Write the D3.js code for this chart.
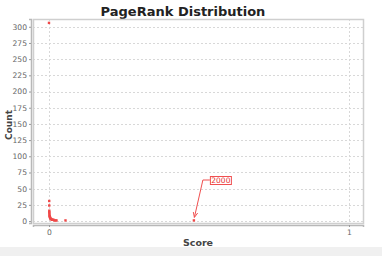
<!DOCTYPE html>
<html lang="en">
<head>
<meta charset="utf-8" />
<title>PageRank Distribution</title>
<style>
  body { margin: 0; background: #fff; }
  text { font-family: "DejaVu Sans", sans-serif; }
</style>
</head>
<body>
<script src="https://d3js.org/d3.v7.min.js"></script>
<div id="chart"></div>
<script>
    // PageRank score of each group and how many nodes share it
    const scores = [0, 0.0008, 0.0008, 0.001, 0.001, 0.0012, 0.0015, 0.002, 0.0025, 0.003, 0.004, 0.005, 0.006, 0.008, 0.01, 0.012, 0.015, 0.018, 0.022, 0.025, 0.055, 0.483];
    const counts = [306, 31, 24, 16, 14, 12, 10, 8, 7, 6, 5, 4, 3, 3, 2, 2, 2, 1, 1, 1, 1, 1];
    const xTicks = [0, 1];
    const yTicks = [0, 25, 50, 75, 100, 125, 150, 175, 200, 225, 250, 275, 300];
    const note = {score: 0.483, count: 1, label: "2000"};

    const W = 382, H = 256;
    const plot = {left: 33, right: 363, top: 19, bottom: 223};

    const svg = d3.select("#chart").append("svg")
        .attr("width", W).attr("height", H);

    // grey strip at the very bottom
    svg.append("rect").attr("x", 0).attr("y", 247).attr("width", W).attr("height", H - 247)
        .attr("fill", "#f0f0f0");

    const x = d3.scaleLinear().domain([-0.0533, 1.0467]).range([plot.left, plot.right]);
    const y = d3.scaleLinear().domain([-3, 312]).range([plot.bottom, plot.top]);

    svg.append("text")
        .attr("x", 183).attr("y", 16)
        .attr("text-anchor", "middle")
        .style("font-size", "13px").style("font-weight", "bold").attr("fill", "#222")
        .text("PageRank Distribution");

    // grid
    svg.append("g").selectAll("line").data(yTicks).join("line")
        .attr("x1", plot.left).attr("x2", plot.right)
        .attr("y1", d => Math.round(y(d)) + 0.5).attr("y2", d => Math.round(y(d)) + 0.5)
        .attr("stroke", "#d8d8d8").attr("stroke-dasharray", "2,2");
    svg.append("g").selectAll("line").data(xTicks).join("line")
        .attr("x1", d => Math.round(x(d)) + 0.5).attr("x2", d => Math.round(x(d)) + 0.5)
        .attr("y1", plot.top).attr("y2", plot.bottom)
        .attr("stroke", "#d8d8d8").attr("stroke-dasharray", "2,2");

    // plot outline
    svg.append("rect")
        .attr("x", plot.left + 0.5).attr("y", plot.top + 0.5)
        .attr("width", plot.right - plot.left).attr("height", plot.bottom - plot.top)
        .attr("fill", "none").attr("stroke", "#cfcfcf").attr("stroke-width", 1.5);

    // axes, a little offset from the plot
    const yAxis = svg.append("g").attr("transform", `translate(${plot.left - 2},0)`)
        .call(d3.axisLeft(y).tickValues(yTicks).tickSize(2).tickPadding(2));
    const xAxis = svg.append("g").attr("transform", `translate(0,${plot.bottom + 2})`)
        .call(d3.axisBottom(x).tickValues(xTicks).tickSize(2).tickPadding(3).tickFormat(d3.format("d")));
    [yAxis, xAxis].forEach(a => {
        a.select(".domain").attr("stroke", "#b8b8b8").attr("stroke-width", 1.5);
        a.selectAll(".tick line").attr("stroke", "#999");
        a.selectAll(".tick text").attr("fill", "#666").style("font-size", "7.6px")
            .style("font-family", "DejaVu Sans, sans-serif");
    });

    svg.append("text")
        .attr("transform", `translate(11.5,${(plot.top + plot.bottom) / 2 + 4}) rotate(-90)`)
        .attr("text-anchor", "middle")
        .style("font-size", "9px").style("font-weight", "bold").attr("fill", "#444")
        .text("Count");
    svg.append("text")
        .attr("x", (plot.left + plot.right) / 2).attr("y", 246)
        .attr("text-anchor", "middle")
        .style("font-size", "9.5px").style("font-weight", "bold").attr("fill", "#444")
        .text("Score");

    // points
    svg.append("g").selectAll("rect").data(scores.map((s, i) => [s, counts[i]])).join("rect")
        .attr("x", d => x(d[0]) - 1.2).attr("y", d => y(d[1]) - 1.2)
        .attr("width", 2.4).attr("height", 2.4)
        .attr("fill", "#f04848");

    // annotation with arrow
    svg.append("defs").append("marker")
        .attr("id", "arr").attr("viewBox", "0 0 10 10").attr("refX", 9).attr("refY", 5)
        .attr("markerWidth", 6).attr("markerHeight", 6).attr("orient", "auto")
        .append("path").attr("d", "M0,1 L9,5 L0,9").attr("fill", "none").attr("stroke", "#f05050").attr("stroke-width", 1.5);

    const tipX = x(note.score), tipY = y(note.count) - 3;
    const boxX = tipX + 16, boxY = 176;
    svg.append("path")
        .attr("d", `M${boxX},${boxY + 4} L${tipX + 9},${boxY + 4} L${tipX + 0.5},${tipY}`)
        .attr("fill", "none").attr("stroke", "#f05050").attr("stroke-width", 1)
        .attr("marker-end", "url(#arr)");
    svg.append("rect")
        .attr("x", boxX + 0.5).attr("y", boxY + 0.5).attr("width", 21).attr("height", 8)
        .attr("fill", "#fff").attr("stroke", "#f05050");
    svg.append("text")
        .attr("x", boxX + 11).attr("y", boxY + 7.3)
        .attr("text-anchor", "middle")
        .style("font-size", "7.5px").attr("fill", "#e83030")
        .text(note.label);
</script>
</body>
</html>
